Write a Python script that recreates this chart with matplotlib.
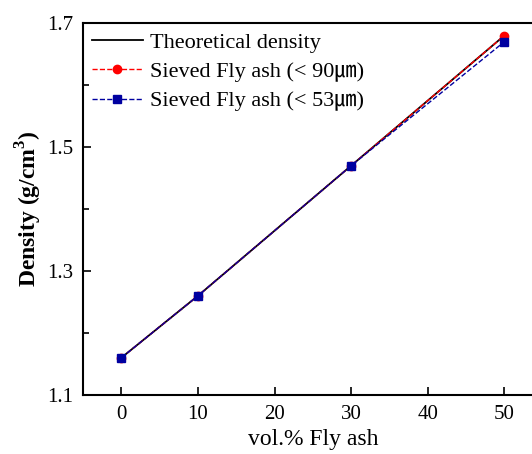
import matplotlib
matplotlib.use("Agg")
import matplotlib.pyplot as plt
from matplotlib.ticker import MultipleLocator

plt.rcParams['font.family'] = ['Liberation Serif', 'Noto Sans CJK SC', 'DejaVu Sans']
plt.rcParams['mathtext.fontset'] = 'custom'
plt.rcParams['mathtext.rm'] = 'Liberation Serif'
plt.rcParams['mathtext.bf'] = 'Liberation Serif:bold'

# datos
vol_fly_ash = [0, 10, 30, 50]
teorica = [1.16, 1.26, 1.47, 1.68]
tamiz_90 = [1.16, 1.26, 1.47, 1.68]
tamiz_53 = [1.16, 1.26, 1.47, 1.67]

fig = plt.figure(figsize=(5.32, 4.54), dpi=100)
ax = fig.add_axes([0.156, 0.130, 0.864, 0.819])

ax.plot(vol_fly_ash, teorica, color='black', linewidth=1.3, label='Theoretical density')
ax.plot(vol_fly_ash, tamiz_90, color='red', linestyle='--', linewidth=1.0,
        marker='o', markersize=6, label='Sieved Fly ash (< 90㎛)')
ax.plot(vol_fly_ash, tamiz_53, color='#0000a0', linestyle='--', linewidth=1.0,
        marker='s', markersize=6, label='Sieved Fly ash (< 53㎛)')

ax.set_xlim(-5, 55)
ax.set_ylim(1.1, 1.7)
ax.xaxis.set_major_locator(MultipleLocator(10))
ax.yaxis.set_minor_locator(MultipleLocator(0.1))
ax.tick_params(direction='in', which='both', labelsize=15, width=1.2, pad=7)
ax.tick_params(which='major', length=6)
ax.tick_params(which='minor', length=4)
ax.set_yticks([1.1, 1.3, 1.5, 1.7])
ax.set_yticklabels(['1.1', '1.3', '1.5', '1.7'])
for s in ax.spines.values():
    s.set_linewidth(1.5)

ax.set_xlabel('vol.% Fly ash', fontsize=17, labelpad=4)
ax.set_ylabel(r'Density (g/cm$^\mathbf{3}$)', fontsize=17, fontweight='bold', labelpad=2)

ax.legend(loc='upper left', frameon=False, fontsize=16, handlelength=2.3,
          handletextpad=0.3, labelspacing=0.4, borderaxespad=0.2,
          borderpad=0.2)

fig.savefig('out.png', dpi=100)
